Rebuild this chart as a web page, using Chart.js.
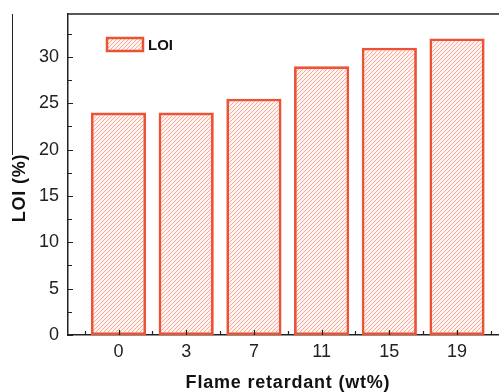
<!DOCTYPE html>
<html lang="en">
<head>
    <meta charset="UTF-8">
    <title>LOI vs flame retardant</title>
    <script src="https://cdn.jsdelivr.net/npm/chart.js"></script>
    <style>
        html, body { margin: 0; padding: 0; background: #fff; }
        #wrap { width: 499px; height: 392px; position: relative; }
    </style>
</head>
<body>
    <div id="wrap"><canvas id="loiChart"></canvas></div>

    <script>
        // data
        const categories = ['0', '3', '7', '11', '15', '19'];
        const loiValues = [24, 24, 25.5, 29, 31, 32];
        const yTickValues = [0, 5, 10, 15, 20, 25, 30];
        const seriesLabel = 'LOI';
        const xTitle = 'Flame retardant (wt%)';
        const yTitle = 'LOI (%)';

        const RED = '#eb5236';
        const FONT = "'Liberation Sans', Arial, sans-serif";

        // diagonal hatch fill
        function makeHatch() {
            const c = document.createElement('canvas');
            c.width = 4; c.height = 4;
            const g = c.getContext('2d');
            g.fillStyle = '#fff4f1';
            g.fillRect(0, 0, 4, 4);
            g.strokeStyle = 'rgb(248,172,152)';
            g.lineWidth = 1;
            g.beginPath();
            g.moveTo(-1, 5); g.lineTo(5, -1);
            g.moveTo(-1, 1); g.lineTo(1, -1);
            g.moveTo(3, 5); g.lineTo(5, 3);
            g.stroke();
            return g.createPattern(c, 'repeat');
        }
        const hatch = makeHatch();

        // ticks point inward, minor ticks between majors, frame and axis titles
        const decorPlugin = {
            id: 'decor',
            afterDraw(chart) {
                const ctx = chart.ctx;
                const xs = chart.scales.x, ys = chart.scales.y;
                const a = chart.chartArea;
                ctx.save();
                ctx.strokeStyle = '#222';
                ctx.lineWidth = 1.2;
                ctx.beginPath();
                yTickValues.forEach(v => {
                    const p = Math.round(ys.getPixelForValue(v)) + 0.5;
                    ctx.moveTo(a.left, p); ctx.lineTo(a.left + 5, p);
                    const m = Math.round(ys.getPixelForValue(v + 2.5)) + 0.5;
                    ctx.moveTo(a.left, m); ctx.lineTo(a.left + 4, m);
                });
                categories.forEach((c, i) => {
                    const p = Math.round(xs.getPixelForValue(i)) + 0.5;
                    ctx.moveTo(p, a.bottom); ctx.lineTo(p, a.bottom - 5);
                });
                for (let i = -0.5; i <= categories.length; i += 1) {
                    const m = Math.round(xs.getPixelForValue(i)) + 0.5;
                    ctx.moveTo(m, a.bottom); ctx.lineTo(m, a.bottom - 4);
                }
                ctx.stroke();

                // top frame line
                ctx.lineWidth = 1.5;
                ctx.beginPath();
                ctx.moveTo(a.left, a.top); ctx.lineTo(a.right, a.top);
                ctx.stroke();

                // stray rule at far left of the crop
                ctx.lineWidth = 1;
                ctx.beginPath();
                ctx.moveTo(12.5, a.top); ctx.lineTo(12.5, 155);
                ctx.stroke();

                // legend
                const lx = 107, ly = 38, lw = 36, lh = 13;
                ctx.fillStyle = hatch;
                ctx.fillRect(lx, ly, lw, lh);
                ctx.strokeStyle = RED;
                ctx.lineWidth = 2.5;
                ctx.strokeRect(lx, ly, lw, lh);
                ctx.fillStyle = '#111';
                ctx.font = 'bold 15px ' + FONT;
                ctx.textBaseline = 'middle';
                ctx.textAlign = 'left';
                ctx.fillText(seriesLabel, 148, ly + lh / 2 + 1);

                // axis titles
                ctx.font = 'bold 18px ' + FONT;
                ctx.letterSpacing = '0.8px';
                ctx.textAlign = 'center';
                ctx.textBaseline = 'alphabetic';
                ctx.fillText(xTitle, 288, 388);
                ctx.translate(25, 188);
                ctx.rotate(-Math.PI / 2);
                ctx.fillText(yTitle, 0, 0);
                ctx.restore();
            }
        };

        new Chart(document.getElementById('loiChart'), {
            type: 'bar',
            data: {
                datasets: [{
                    label: seriesLabel,
                    data: loiValues.map((v, i) => ({ x: i, y: v })),
                    backgroundColor: hatch,
                    borderColor: RED,
                    borderWidth: 2.8,
                    borderSkipped: false,
                    barPercentage: 0.815,
                    categoryPercentage: 1
                }]
            },
            options: {
                responsive: true,
                maintainAspectRatio: false,
                animation: false,
                layout: { padding: { top: 14, left: 0, right: 0, bottom: 0 } },
                plugins: {
                    legend: { display: false },
                    tooltip: { enabled: false }
                },
                scales: {
                    x: {
                        type: 'linear',
                        offset: false,
                        min: -0.746,
                        max: 5.62,
                        grid: { display: false, offset: false, tickLength: 0 },
                        border: { display: true, color: '#222', width: 1.5 },
                        afterFit: s => {
                            s.height = 57;
                            s.paddingLeft = 0; s.paddingRight = 0;
                        },
                        afterBuildTicks: s => {
                            s.ticks = categories.map((c, i) => ({ value: i }));
                        },
                        ticks: {
                            color: '#222',
                            font: { family: FONT, size: 18 },
                            padding: 6,
                            maxRotation: 0,
                            autoSkip: false,
                            callback: v => categories[v]
                        }
                    },
                    y: {
                        min: 0,
                        max: 34.64,
                        grid: { display: false, tickLength: 0 },
                        border: { display: true, color: '#222', width: 1.5 },
                        afterFit: s => {
                            s.width = 68;
                            s.paddingTop = 0; s.paddingBottom = 0;
                        },
                        afterBuildTicks: s => {
                            s.ticks = yTickValues.map(v => ({ value: v }));
                        },
                        ticks: {
                            color: '#222',
                            font: { family: FONT, size: 18 },
                            padding: 9
                        }
                    }
                }
            },
            plugins: [decorPlugin]
        });
    </script>
</body>
</html>
